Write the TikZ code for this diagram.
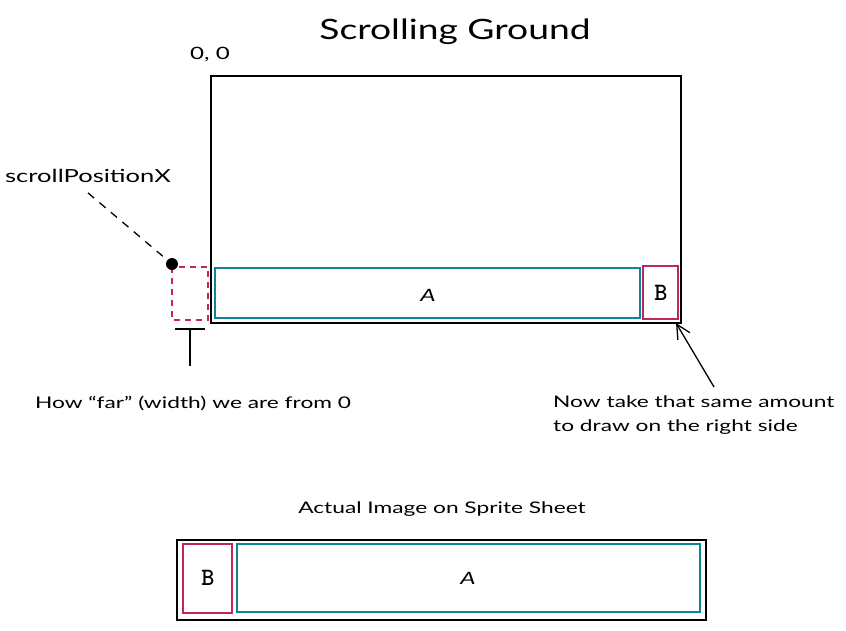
\documentclass[tikz,border=0pt]{standalone}
\usepackage{fontspec}
\setmainfont{Lato}[FakeStretch=1.42]
\newfontfamily\titlefont{Lato}[FakeStretch=1.33]
\usetikzlibrary{arrows.meta}
\definecolor{tealx}{HTML}{0C8599}
\definecolor{crim}{HTML}{C2255C}
\tikzset{
  box/.style={draw=black, line width=1.3pt},
  abox/.style={draw=tealx, line width=1.3pt},
  bbox/.style={draw=crim, line width=1.3pt},
  lbl/.style={inner sep=0pt, font=\fontsize{16}{24}\selectfont},
  blbl/.style={inner sep=0pt, font=\ttfamily\bfseries\fontsize{25}{26}\selectfont},
}
\begin{document}
\begin{tikzpicture}[x=1pt,y=-1pt]
\useasboundingbox (0,0) rectangle (846,630);
% title
\node[inner sep=0pt, font=\titlefont\fontsize{28}{34}\selectfont] (title) at (455,32) {Scrolling Ground};
\node[lbl, font=\fontsize{17}{20}\selectfont] (origin) at (210,54) {0, 0};
% main screen
\draw[box] (211,76) rectangle (681,323);
\coordinate (corner) at (676,323);
\draw[abox] (215,268) rectangle (640,318);
\node[lbl, font=\fontsize{17}{20}\itshape] (A1) at (428,295) {A};
\draw[bbox] (643,266) rectangle (678,319);
\node[blbl] (B1) at (661,293) {B};
% scroll position
\draw[crim, line width=1.3pt, dash pattern=on 6pt off 5pt] (172,267) rectangle (208,320);
\node[circle, fill=black, inner sep=0pt, minimum size=12pt] (dot) at (172,264) {};
\node[lbl, font=\fontsize{18}{22}\selectfont] (spx) at (88,176) {scrollPositionX};
\draw[line width=1.3pt, dash pattern=on 8pt off 7pt] (spx.south) ++(0,10) -- (dot);
% width marker
\coordinate (tl) at (175,329);
\coordinate (tr) at (205,329);
\coordinate (tm) at (190,329);
\coordinate (tb) at (190,366);
\draw[line width=1.3pt] (tl) -- (tr);
\draw[line width=1.3pt] (tm) -- (tb);
\node[lbl] (how) at (193,403) {How ``far'' (width) we are from 0};
% note
\node[lbl, align=left, anchor=base west] (note) at (553,431) {Now take that same amount\\to draw on the right side};
\draw[line width=1.3pt, -{Straight Barb[length=14pt,width=14pt]}] (714,387) -- (corner);
% sprite sheet
\node[lbl, font=\fontsize{16}{20}\selectfont] (sheet) at (442,509) {Actual Image on Sprite Sheet};
\draw[box] (177,540) rectangle (706,620);
\draw[bbox] (183,544) rectangle (232,613);
\node[blbl] (B2) at (208,578) {B};
\draw[abox] (237,544) rectangle (700,612);
\node[lbl, font=\fontsize{17}{20}\itshape] (A2) at (468,578) {A};
\end{tikzpicture}
\end{document}
